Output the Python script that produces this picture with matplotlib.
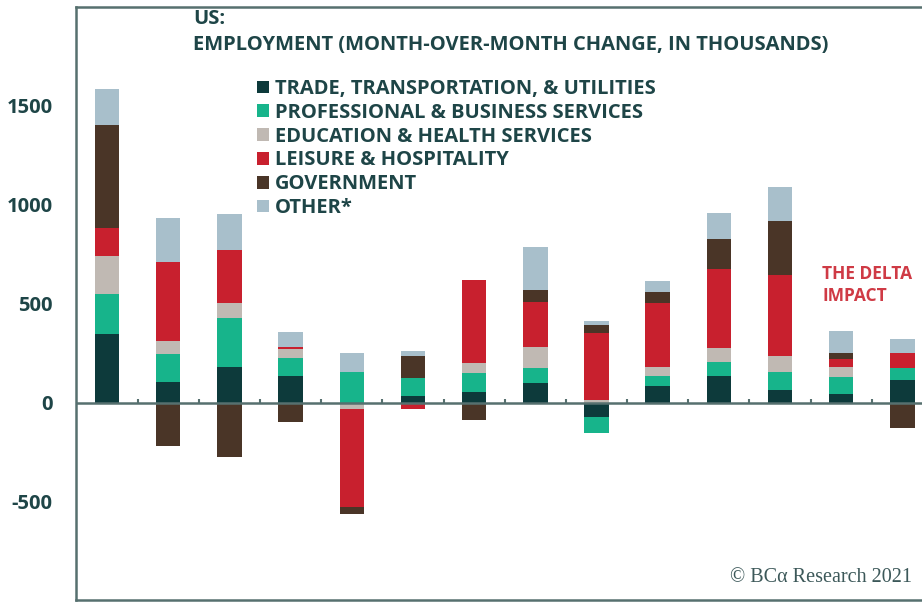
import matplotlib
matplotlib.use("Agg")
import matplotlib.pyplot as plt
import numpy as np
from matplotlib.patches import Patch

# monthly change by sector, thousands
trade = [347, 108, 183, 136, 0, 35, 56, 101, -72, 87, 136, 64, 45, 116]
prof = [202, 139, 245, 93, 158, 93, 94, 77, -81, 51, 72, 93, 85, 61]
edu = [195, 68, 79, 42, -30, 0, 54, 103, 15, 42, 71, 80, 50, 0]
leisure = [141, 396, 266, 13, -497, -30, 417, 228, 337, 323, 398, 409, 40, 77]
gov = [519, -217, -274, -97, -32, 109, -86, 60, 42, 59, 151, 275, 34, -128]
other = [180, 222, 182, 76, 96, 27, 0, 217, 22, 54, 133, 169, 110, 69]

labels = [
    "TRADE, TRANSPORTATION, & UTILITIES",
    "PROFESSIONAL & BUSINESS SERVICES",
    "EDUCATION & HEALTH SERVICES",
    "LEISURE & HOSPITALITY",
    "GOVERNMENT",
    "OTHER*",
]
colors = ["#0d3a3b", "#17b48b", "#c0b9b3", "#c8202e", "#4a3527", "#a8bfcb"]
yticks = [-500, 0, 500, 1000, 1500]

TEXT = "#1e4547"
FRAME = "#56706f"
FONT = "Open Sans"

fig = plt.figure(figsize=(9.22, 6.03), dpi=100)
ax = fig.add_axes([76 / 922, 3 / 603, 1 - 76 / 922, 593 / 603])

series = [trade, prof, edu, leisure, gov, other]
x = np.arange(len(trade))
pos_base = np.zeros(len(x))
neg_base = np.zeros(len(x))
for vals, col in zip(series, colors):
    v = np.asarray(vals, dtype=float)
    base = np.where(v >= 0, pos_base, neg_base)
    ax.bar(x, v, bottom=base, width=0.4, color=col, linewidth=0)
    pos_base += np.clip(v, 0, None)
    neg_base += np.clip(v, None, 0)

ax.set_xlim(-0.507, 13.32)
ax.set_ylim(-995, 2000)

# zero line with small separators between months
ax.axhline(0, color=FRAME, linewidth=1.8, zorder=3)
ax.vlines(x[:-1] + 0.5, 0, 22, color=FRAME, linewidth=1.5, zorder=3)

for side in ["left", "top", "bottom"]:
    ax.spines[side].set_color(FRAME)
    ax.spines[side].set_linewidth(1.8)
ax.spines["right"].set_visible(False)

ax.set_xticks([])
ax.set_yticks(yticks)
ax.set_yticklabels([str(t) for t in yticks])
ax.tick_params(axis="y", length=0, pad=17)
for lab in ax.get_yticklabels():
    lab.set_fontfamily(FONT)
    lab.set_fontweight("bold")
    lab.set_fontsize(14.5)
    lab.set_color(TEXT)

fig.text(193 / 922, 1 - 19 / 603, "US:", fontsize=14.5, fontweight="bold",
         color=TEXT, family=FONT, va="center", ha="left")
fig.text(193 / 922, 1 - 45 / 603,
         "EMPLOYMENT (MONTH-OVER-MONTH CHANGE, IN THOUSANDS)",
         fontsize=14.5, fontweight="bold", color=TEXT, family=FONT,
         va="center", ha="left")

handles = [Patch(facecolor=c, edgecolor="none") for c in colors]
leg = fig.legend(handles, labels, loc="upper left",
                 bbox_to_anchor=(257 / 922, 1 - 79 / 603), frameon=False,
                 handlelength=0.6, handleheight=0.6, handletextpad=0.3,
                 labelspacing=0.19, borderaxespad=0, borderpad=0,
                 prop={"family": FONT, "weight": "bold", "size": 14.5})
for t in leg.get_texts():
    t.set_color(TEXT)

ax.text(822 / 922, 1 - 285 / 603, "THE DELTA\nIMPACT", transform=fig.transFigure,
        fontsize=12.5, fontweight="bold", color="#cf3a45", family=FONT,
        va="center", ha="left", linespacing=1.3)

fig.text(912 / 922, 1 - 578 / 603, "© BCα Research 2021", fontsize=14.5,
         family="Liberation Serif", color="#3c5859", ha="right", va="center")

fig.savefig("out.png", dpi=100)
